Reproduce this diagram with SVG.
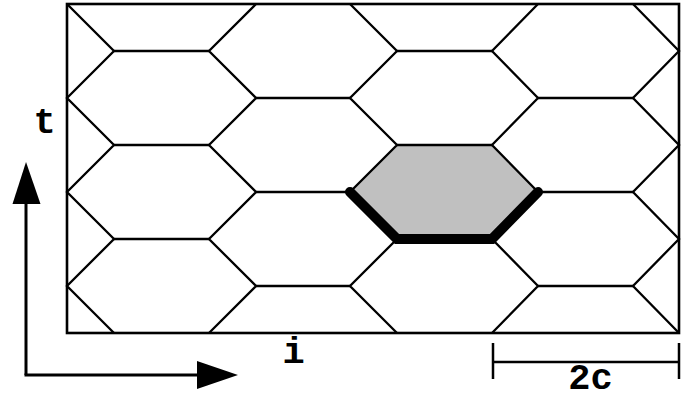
<svg xmlns="http://www.w3.org/2000/svg" width="698" height="396" viewBox="0 0 698 396">
<style>
.thin{fill:none;stroke:#000;stroke-width:2.3;stroke-linejoin:miter}
.lbl{font-family:"Liberation Mono","Courier New",monospace;font-weight:bold;font-size:37px;fill:#000;text-anchor:middle}
.axis{fill:none;stroke:#000;stroke-width:3}
</style>
<rect width="698" height="396" fill="#fff"/>
<g id="highlight">
<polygon points="350,192 397,145 492,145 538,192 492,239 397,239" fill="#c0c0c0" stroke="none"/>
</g>
<g id="grid" class="thin">
<polyline points="67,4 114,51 67,98 114,145 67,192 114,239 67,286 114,333"/>
<polyline points="256,4 209,51 256,98 209,145 256,192 209,239 256,286 209,333"/>
<polyline points="350,4 397,51 350,98 397,145 350,192 397,239 350,286 397,333"/>
<polyline points="538,4 492,51 538,98 492,145 538,192 492,239 538,286 492,333"/>
<polyline points="633,4 679,51 633,98 679,145 633,192 679,239 633,286 679,333"/>
<path d="M114,51H209M397,51H492M114,145H209M397,145H492M114,239H209M397,239H492M256,98H350M538,98H633M256,192H350M538,192H633M256,286H350M538,286H633"/>
<rect x="67" y="4" width="612" height="329" stroke-width="2.6"/>
</g>
<g id="path">
<polyline points="350,192 397,239 492,239 538,192" fill="none" stroke="#000" stroke-width="10" stroke-linecap="round" stroke-linejoin="miter"/>
</g>
<g id="axes">
<line class="axis" x1="26" y1="375" x2="26" y2="200"/>
<polygon points="26,162 12.5,204 40.5,204"/>
<line class="axis" x1="24.5" y1="375" x2="200" y2="375"/>
<polygon points="238,375 197,361 197,389"/>
</g>
<g id="scale" class="axis" style="stroke-width:2.5">
<path d="M493,343V379M679,343V379M493,362H679"/>
</g>
<text class="lbl" x="44.5" y="133">t</text>
<text class="lbl" x="293.5" y="363">i</text>
<text class="lbl" x="590.5" y="389">2c</text>
</svg>
